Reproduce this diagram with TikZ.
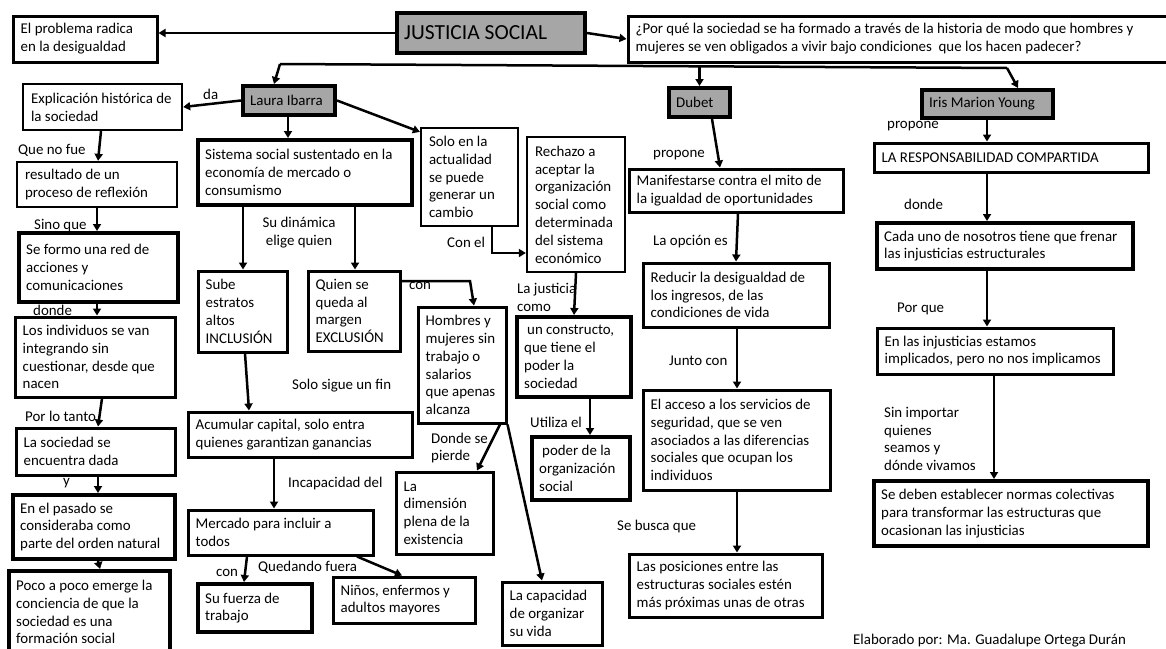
\documentclass[tikz,border=0pt]{standalone}
\usepackage{fontspec}
\setmainfont{Carlito}
\usetikzlibrary{arrows.meta}
\definecolor{boxgray}{RGB}{166,166,166}

% rectangle named #2 with corners (#3,#4) and (#5,#6), left-aligned text #7
\newcommand\mkbox[7][]{%
  \node[box,#1,minimum width={(#5-#3)*1pt},minimum height={(#6-#4)*1pt}]
    (#2) at ({(#3+#5)/2},{(#4+#6)/2}) {};
  \node[txt] at ([xshift=9pt]#2.west) {#7};}

\begin{document}
\begin{tikzpicture}[x=1pt,y=-1pt,
  font=\fontsize{14.9}{17.8}\selectfont,
  box/.style={draw=black,line width=3pt,inner sep=0pt},
  heavy/.style={line width=4pt},
  light/.style={line width=2.3pt},
  shade/.style={fill=boxgray},
  txt/.style={inner sep=0pt,align=left,anchor=west},
  lbl/.style={inner sep=0pt,align=left,anchor=west},
  arr/.style={line width=2.5pt,-{Triangle[length=7pt,width=8pt]}},
  conn/.style={line width=2.5pt}]
\useasboundingbox (0,0) rectangle (1166,648);
\clip (0,0) rectangle (1166,648);

% ---- boxes
\mkbox[heavy,shade]{js}{397}{13}{585}{53}{{\fontsize{21.5}{26}\selectfont JUSTICIA SOCIAL}}
\mkbox{prob}{13}{16}{157}{62}{El problema radica\\en la desigualdad}
\mkbox{q}{628}{16}{1175}{62}{¿Por qué la sociedad se ha formado a través de la historia de modo que hombres y\\mujeres se ven obligados a vivir bajo condiciones\ \ que los hacen padecer?}
\mkbox[heavy,shade]{laura}{243}{86}{335}{115}{Laura Ibarra}
\mkbox[heavy,shade]{dubet}{669}{88}{730}{117}{Dubet}
\mkbox[heavy,shade]{iris}{922}{90}{1053}{118}{Iris Marion Young}

\mkbox[light]{expl}{23}{84}{182}{130}{Explicación histórica de\\la sociedad}
\mkbox[light]{res}{17}{162}{177}{207}{resultado de un\\proceso de reflexión}
\mkbox[heavy]{redacc}{19}{233}{178}{302}{Se formo una red de\\acciones y\\comunicaciones}
\mkbox{ind}{15}{317}{175}{397}{Los individuos se van\\integrando sin\\cuestionar, desde que\\nacen}
\mkbox{soc}{16}{428}{175}{475}{La sociedad se\\encuentra dada}
\mkbox[heavy]{pas}{13}{495}{175}{559}{En el pasado se\\consideraba como\\parte del orden natural}
\mkbox[heavy]{poco}{9}{571}{170}{653}{Poco a poco emerge la\\conciencia de que la\\sociedad es una\\formación social}

\mkbox[heavy]{sis}{198}{140}{412}{205}{Sistema social sustentado en la\\economía de mercado o\\consumismo}
\mkbox{sube}{198}{271}{287}{352}{Sube\\estratos\\altos\\INCLUSIÓN}
\mkbox{quien}{308}{271}{400}{351}{Quien se\\queda al\\margen\\EXCLUSIÓN}
\mkbox{acum}{188}{412}{412}{457}{Acumular capital, solo entra\\quienes garantizan ganancias}
\mkbox{merc}{188}{510}{373}{555}{Mercado para incluir a\\todos}
\mkbox[heavy]{fuer}{198}{584}{312}{632}{Su fuerza de\\trabajo}
\mkbox{ninos}{333}{577}{475}{623}{Niños, enfermos y\\adultos mayores}

\mkbox[light]{solo}{421}{128}{518}{226}{Solo en la\\actualidad\\se puede\\generar un\\cambio}
\mkbox[light]{rech}{527}{137}{625}{272}{Rechazo a\\aceptar la\\organización\\social como\\determinada\\del sistema\\económico}
\mkbox{homb}{418}{307}{506}{423}{Hombres y\\mujeres sin\\trabajo o\\salarios\\que apenas\\alcanza}
\mkbox[heavy]{cons}{517}{317}{631}{397}{\hspace*{3pt}un constructo,\\que tiene el\\poder la\\sociedad}
\mkbox[heavy]{poder}{532}{437}{630}{500}{\hspace*{3pt}poder de la\\organización\\social}
\mkbox{dim}{396}{472}{493}{554}{La\\dimensión\\plena de la\\existencia}
\mkbox{cap}{502}{582}{602}{645}{La capacidad\\de organizar\\su vida}

\mkbox{man}{629}{169}{843}{212}{Manifestarse contra el mito de\\la igualdad de oportunidades}
\mkbox{reduc}{643}{263}{829}{327}{Reducir la desigualdad de\\los ingresos, de las\\condiciones de vida}
\mkbox{acc}{643}{390}{830}{490}{El acceso a los servicios de\\seguridad, que se ven\\asociados a las diferencias\\sociales que ocupan los\\individuos}
\mkbox{pos}{629}{554}{822}{617}{Las posiciones entre las\\estructuras sociales estén\\más próximas unas de otras}

\mkbox{resp}{874}{143}{1148}{172}{LA RESPONSABILIDAD COMPARTIDA}
\mkbox[heavy]{cada}{877}{223}{1133}{269}{Cada uno de nosotros tiene que frenar\\las injusticias estructurales}
\mkbox{enl}{877}{328}{1113}{374}{En las injusticias estamos\\implicados, pero no nos implicamos}
\mkbox[heavy]{sed}{874}{481}{1148}{546}{Se deben establecer normas colectivas\\para transformar las estructuras que\\ocasionan las injusticias}

% ---- connector labels
\node[lbl] (l1) at (203,94) {da};
\node[lbl] (l2) at (18,150) {Que no fue};
\node[lbl] (l3) at (34,226) {Sino que};
\node[lbl] (l4) at (33,310) {donde};
\node[lbl] (l5) at (25,416) {Por lo tanto};
\node[lbl] (l6) at (63,483) {y};
\node[inner sep=0pt,align=center] (l7) at (299,233) {Su dinámica\\elige quien};
\node[lbl] (l8) at (292,386) {Solo sigue un fin};
\node[lbl] (l9) at (288,484) {Incapacidad del};
\node[lbl] (l10) at (216,573) {con};
\node[lbl] (l11) at (258,567) {Quedando fuera};
\node[lbl] (l12) at (409,286) {con};
\node[lbl] (l13) at (447,242) {Con el};
\node[lbl] (l14) at (517,297.5) {La justicia\\como};
\node[lbl] (l15) at (431,448) {Donde se\\pierde};
\node[lbl] (l16) at (530,422) {Utiliza el};
\node[lbl] (l17) at (653,155) {propone};
\node[lbl] (l18) at (653,242) {La opción es};
\node[lbl] (l19) at (669,361) {Junto con};
\node[lbl] (l20) at (617,527) {Se busca que};
\node[lbl] (l21) at (887,126) {propone};
\node[lbl] (l22) at (904,204) {donde};
\node[lbl] (l23) at (897,309) {Por que};
\node[lbl] (l24) at (884,439) {Sin importar\\quienes\\seamos y\\dónde vivamos};
\node[lbl] (l25) at (853,641) {Elaborado por: Ma. Guadalupe Ortega Durán};

% ---- connectors
\draw[arr] (js.west) -- (js.west -| prob.east);
\draw[arr] (js.east) -- (q.west);

\coordinate (busL) at (280,64);
\coordinate (busR) at (1007,68);
\draw[conn] (busL) -- (busR);
\draw[arr] (busL) -- (274,0 |- laura.north);
\draw[arr] (dubet.north |- 0,66) -- (dubet.north);
\draw[arr] (busR) -- (1018,0 |- iris.north);

\draw[arr] (laura.west) -- (expl.east);
\draw[arr] (288,0 |- laura.south) -- (288,0 |- sis.north);
\draw[arr] (laura.east) -- ([yshift=-5pt]solo.north west);

\draw[arr] (101,0 |- expl.south) -- (98,0 |- res.north);
\draw[arr] (97,0 |- res.south) -- (97,0 |- redacc.north);
\draw[arr] (97,0 |- redacc.south) -- (97,0 |- ind.north);
\draw[arr] (102,0 |- ind.south) -- (98,0 |- soc.north);
\draw[arr] (98,0 |- soc.south) -- (98,0 |- pas.north);
\draw[arr] (98,0 |- pas.south) -- (100,0 |- poco.north);

\draw[arr] (243,0 |- sis.south) -- (243,0 |- sube.north);
\draw[arr] (355,0 |- sis.south) -- (355,0 |- quien.north);
\draw[arr] (245,0 |- sube.south) -- (249,0 |- acum.north);
\draw[arr] (274,0 |- acum.south) -- (274,0 |- merc.north);
\draw[arr] (247,0 |- merc.south) -- (244,0 |- fuer.north);
\draw[arr] (357,0 |- merc.south) -- (402,0 |- ninos.north);
\draw[arr] (quien.east |- 0,281) -- (470,281) -- (474,0 |- homb.north);

\draw[arr] (492,0 |- solo.south) -- (492,253) -- (rech.west |- 0,253);
\draw[arr] (576,0 |- rech.south) -- (574,0 |- cons.north);
\draw[arr] (590,0 |- cons.south) -- (590,0 |- poder.north);
\draw[arr] (500,0 |- homb.south) -- (477,0 |- dim.north);
\draw[arr] (homb.south east) -- (542,0 |- cap.north);

\draw[arr] (712,0 |- dubet.south) -- (720,0 |- man.north);
\draw[arr] (738,0 |- man.south) -- (736,0 |- reduc.north);
\draw[arr] (737,0 |- reduc.south) -- (737,0 |- acc.north);
\draw[arr] (737,0 |- acc.south) -- (737,0 |- pos.north);

\draw[arr] (987,0 |- iris.south) -- (987,0 |- resp.north);
\draw[arr] (987,0 |- resp.south) -- (987,0 |- cada.north);
\draw[arr] (987,0 |- cada.south) -- (987,0 |- enl.north);
\draw[arr] (994,0 |- enl.south) -- (994,0 |- sed.north);
\end{tikzpicture}
\end{document}
